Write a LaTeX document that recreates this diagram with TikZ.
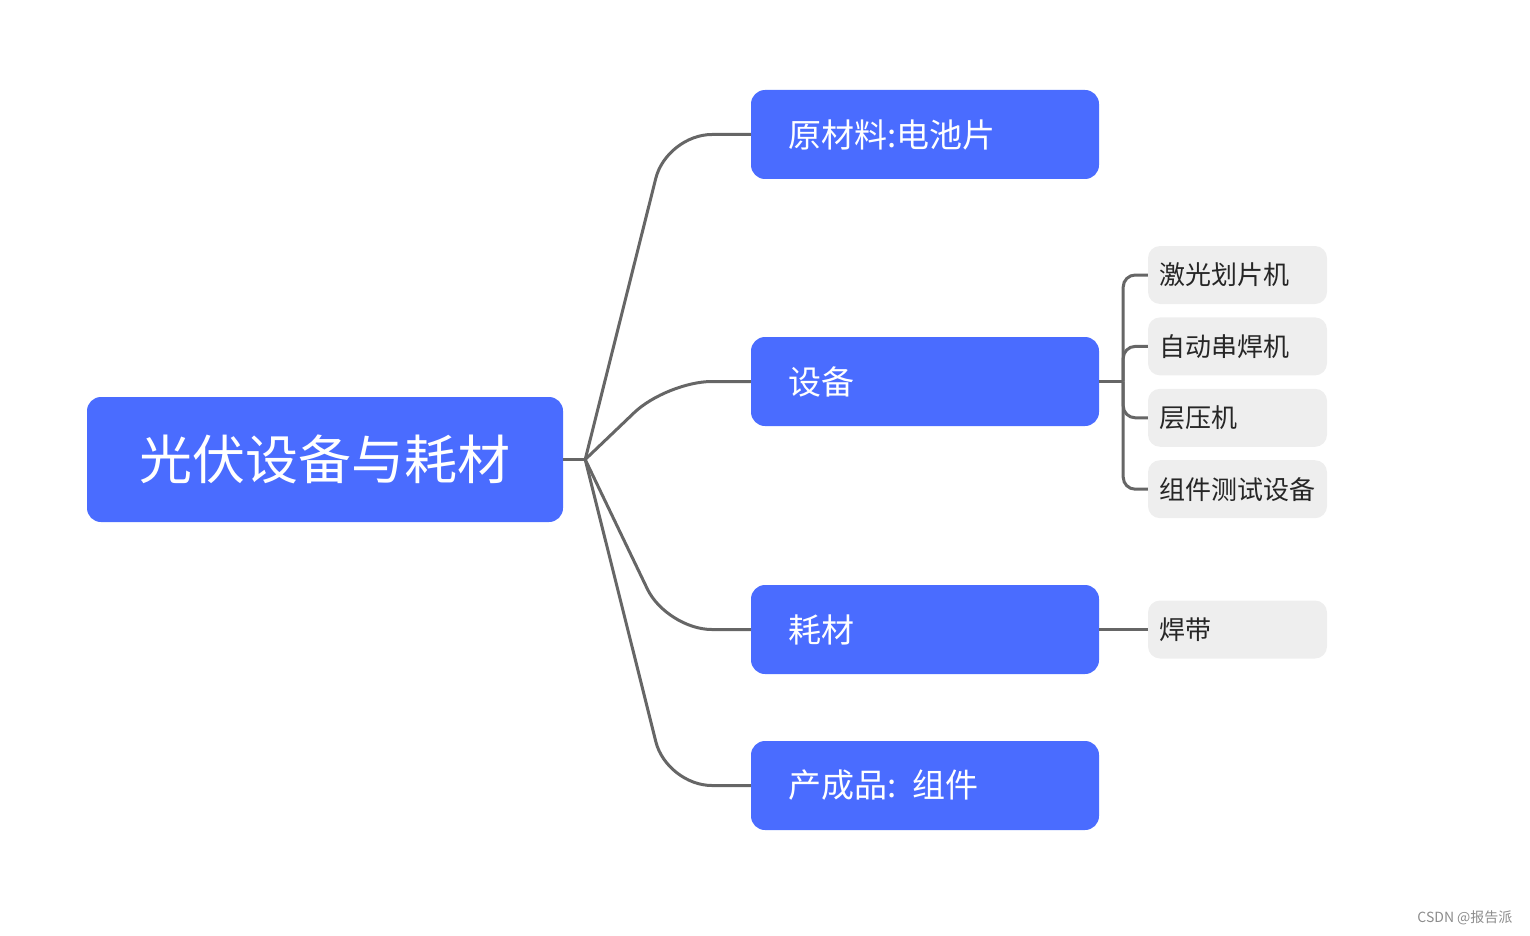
\documentclass[tikz,border=0pt]{standalone}
\usepackage{fontspec}
\usepackage{xcolor}
\usepackage{tikz}
\usetikzlibrary{positioning, calc}
\setmainfont{Noto Sans CJK SC}
\definecolor{mainblue}{RGB}{74,108,255}
\definecolor{leafgray}{RGB}{238,238,238}
\definecolor{linegray}{RGB}{102,102,102}

\begin{document}
\begin{tikzpicture}[x=1pt, y=-1pt,
    rootbox/.style={fill=mainblue, rounded corners=14pt, minimum width=476pt, minimum height=125pt,
        text=white, font=\fontsize{53}{60}\selectfont},
    branchbox/.style={fill=mainblue, rounded corners=14pt, minimum height=89pt, inner xsep=37pt,
        text width=274pt, align=left, text=white, font=\fontsize{33}{40}\selectfont},
    leafbox/.style={fill=leafgray, rounded corners=12pt, minimum height=58pt, inner xsep=11pt,
        text width=157pt, align=left, text=black!85, font=\fontsize{26}{32}\selectfont},
    link/.style={draw=linegray, line width=3pt}]
                \useasboundingbox (0,0) rectangle (1530,936);
                % Root
                \node[rootbox] (root) at (325,459.5) {光伏设备与耗材};
                % Branches
                \node[branchbox] (raw) at (925,134.5) {原材料:电池片};
                \node[branchbox] (equip) at (925,381.5) {设备};
                \node[branchbox] (cons) at (925,629.5) {耗材};
                \node[branchbox] (prod) at (925,785.5) {产成品: 组件};
                % Leaves
                \node[leafbox] (laser) at (1237.5,275) {激光划片机};
                \node[leafbox, below=13pt of laser] (stringer) {自动串焊机};
                \node[leafbox, below=13pt of stringer] (laminator) {层压机};
                \node[leafbox, below=13pt of laminator] (tester) {组件测试设备};
                \node[leafbox] (ribbon) at (1237.5,629.5) {焊带};
                % Links from root
                \coordinate (hub) at ([xshift=22pt]root.east);
                \draw[link] (root.east) -- (hub);
                \foreach \b in {raw, equip, cons, prod} {
                    \draw[link, rounded corners=45pt] (hub) -- ([xshift=-84pt]\b.west) -- (\b.west);
                }
                % Links from equipment
                \coordinate (eqhub) at ([xshift=24pt]equip.east);
                \draw[link] (equip.east) -- (eqhub);
                \foreach \l in {laser, stringer, laminator, tester} {
                    \draw[link, rounded corners=12pt] (eqhub) -- (eqhub |- \l.west) -- (\l.west);
                }
                % Link from consumables
                \draw[link] (cons.east) -- (ribbon.west);
                % Watermark
                \node[anchor=east, text=black!45, font=\fontsize{14}{16}\selectfont] (mark) at (1516,918) {CSDN @报告派};
            \end{tikzpicture}
\end{document}
